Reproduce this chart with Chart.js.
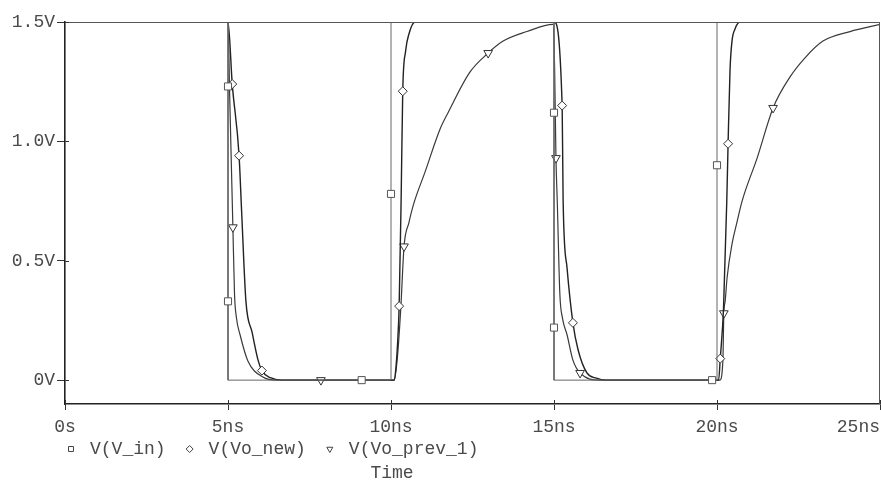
<!DOCTYPE html>
<html>
<head>
<meta charset="utf-8">
<script src="https://cdn.jsdelivr.net/npm/chart.js@4/dist/chart.umd.min.js"></script>
<style>
  html, body { margin: 0; padding: 0; background: #fff; }
  #wrap { width: 881px; height: 484px; position: relative; }
</style>
</head>
<body>
<div id="wrap"><canvas id="chart"></canvas></div>
<script>
// axis ticks
const tickTimes = [0, 5, 10, 15, 20, 25];
const tickTimeLabels = ['0s', '5ns', '10ns', '15ns', '20ns', '25ns'];
const tickVolts = [0, 0.5, 1.0, 1.5];
const tickVoltLabels = ['0V', '0.5V', '1.0V', '1.5V'];

const seriesNames = ['V(V_in)', 'V(Vo_new)', 'V(Vo_prev_1)'];

// V(V_in): time in ns, value in V
const vinT = [0, 5, 5, 5, 5, 9.1, 10, 10, 10, 15, 15, 15, 15, 19.85, 20, 20, 20, 25];
const vinV = [1.5, 1.5, 1.23, 0.33, 0, 0, 0, 0.78, 1.5, 1.5, 1.12, 0.22, 0, 0, 0, 0.9, 1.5, 1.5];
const vinMarks = [2, 3, 5, 7, 10, 11, 13, 15];

// V(Vo_new)
const voNewT = [0, 5.0, 5.13, 5.34, 5.42, 5.55, 5.74, 5.92, 6.04, 6.3, 6.65,
  10.1, 10.15, 10.2, 10.25, 10.31, 10.36, 10.45, 10.55, 10.74,
  15.0, 15.25, 15.28, 15.4, 15.58, 15.74, 16.01, 16.3, 16.6,
  20.05, 20.1, 20.2, 20.3, 20.34, 20.4, 20.46, 20.55, 20.7, 25];
const voNewV = [1.5, 1.5, 1.24, 0.94, 0.70, 0.33, 0.20, 0.085, 0.04, 0.01, 0,
  0, 0.05, 0.15, 0.31, 0.75, 1.21, 1.38, 1.45, 1.5,
  1.5, 1.15, 0.75, 0.47, 0.24, 0.126, 0.03, 0.008, 0,
  0, 0.09, 0.3, 0.75, 0.99, 1.3, 1.42, 1.47, 1.5, 1.5];
const voNewMarks = [2, 3, 8, 14, 16, 21, 24, 30, 33];

// V(Vo_prev_1)
const voPrevT = [0, 5.0, 5.05, 5.15, 5.2, 5.26, 5.37, 5.61, 6.07, 6.5, 7.85,
  10.1, 10.2, 10.3, 10.4, 10.55, 10.7, 11.04, 11.5, 11.75, 12.42, 12.98, 13.44, 14.17, 14.97,
  15.02, 15.06, 15.1, 15.18, 15.26, 15.4, 15.58, 15.8, 16.4,
  20.09, 20.18, 20.21, 20.25, 20.31, 20.46, 20.61, 20.77, 21.23, 21.72, 22.24, 22.7, 23.25, 24.08, 25];
const voPrevV = [1.5, 1.5, 1.2, 0.64, 0.36, 0.26, 0.19, 0.08, 0.013, 0, 0,
  0, 0.1, 0.3, 0.56, 0.66, 0.74, 0.87, 1.05, 1.12, 1.29, 1.37, 1.42, 1.46, 1.49,
  1.3, 0.93, 0.75, 0.36, 0.26, 0.19, 0.084, 0.03, 0,
  0, 0.08, 0.28, 0.33, 0.43, 0.57, 0.66, 0.75, 0.93, 1.14, 1.27, 1.35, 1.42, 1.46, 1.49];
const voPrevMarks = [3, 10, 14, 21, 26, 32, 36, 43];

const FONT = { family: "'Liberation Mono', 'Courier New', monospace", size: 18 };
const TEXT = '#4a4a4a';

function pts(ts, vs) { return ts.map((t, i) => ({ x: t, y: vs[i] })); }
function markRadius(marks, r) { return ctx => marks.includes(ctx.dataIndex) ? r : 0; }

// frame on top/right, tick stubs inside the plot, legend row and "Time"
const decor = {
  id: 'decor',
  afterDraw(chart) {
    const { ctx, chartArea: a, scales } = chart;
    ctx.save();
    ctx.strokeStyle = '#555';
    ctx.lineWidth = 1;
    ctx.beginPath();
    ctx.moveTo(a.left, a.top + 0.5); ctx.lineTo(a.right, a.top + 0.5);
    ctx.moveTo(a.right - 0.5, a.top); ctx.lineTo(a.right - 0.5, a.bottom);
    ctx.stroke();

    ctx.strokeStyle = '#333';
    ctx.beginPath();
    tickVolts.forEach(v => {
      const y = Math.round(scales.y.getPixelForValue(v)) + 0.5;
      ctx.moveTo(a.left, y); ctx.lineTo(a.left + 4, y);
    });
    tickTimes.forEach(t => {
      const x = Math.round(scales.x.getPixelForValue(t)) + 0.5;
      ctx.moveTo(x, a.bottom); ctx.lineTo(x, a.bottom - 4);
    });
    ctx.stroke();

    // legend
    ctx.font = `${FONT.size}px ${FONT.family}`;
    ctx.textBaseline = 'middle';
    ctx.textAlign = 'left';
    const ly = 449;
    let x = a.left + 6;
    chart.data.datasets.forEach((ds, i) => {
      ctx.fillStyle = '#fff';
      ctx.strokeStyle = '#444';
      ctx.lineWidth = 1;
      Chart.helpers.drawPoint(ctx, {
        pointStyle: ds.pointStyle, rotation: ds.pointRotation || 0,
        radius: 3.5, borderWidth: 1
      }, x, ly);
      ctx.fillStyle = TEXT;
      const tx = x + 19;
      ctx.fillText(seriesNames[i], tx, ly);
      x = tx + ctx.measureText(seriesNames[i]).width + 24;
    });

    ctx.fillStyle = TEXT;
    ctx.textAlign = 'center';
    ctx.fillText('Time', 392, 473);
    ctx.restore();
  }
};

const lineBase = {
  fill: false,
  pointBackgroundColor: '#fff',
  pointBorderWidth: 1,
  pointHoverRadius: 0
};

new Chart(document.getElementById('chart').getContext('2d'), {
  type: 'line',
  data: {
    datasets: [
      Object.assign({}, lineBase, {
        label: seriesNames[0],
        data: pts(vinT, vinV),
        borderColor: '#666', borderWidth: 1, tension: 0,
        pointStyle: 'rect', pointRadius: markRadius(vinMarks, 5),
        pointBorderColor: '#555'
      }),
      Object.assign({}, lineBase, {
        label: seriesNames[1],
        data: pts(voNewT, voNewV),
        borderColor: '#222', borderWidth: 1.4, cubicInterpolationMode: 'monotone',
        pointStyle: 'rectRot', pointRadius: markRadius(voNewMarks, 4.5),
        pointBorderColor: '#333'
      }),
      Object.assign({}, lineBase, {
        label: seriesNames[2],
        data: pts(voPrevT, voPrevV),
        borderColor: '#3a3a3a', borderWidth: 1.2, cubicInterpolationMode: 'monotone',
        pointStyle: 'triangle', pointRotation: 180, pointRadius: markRadius(voPrevMarks, 5),
        pointBorderColor: '#333'
      })
    ]
  },
  options: {
    responsive: true,
    maintainAspectRatio: false,
    animation: false,
    layout: { padding: { top: 22, right: 1, left: 0, bottom: 0 } },
    plugins: { legend: { display: false }, tooltip: { enabled: false } },
    scales: {
      x: {
        type: 'linear', min: 0, max: 25,
        afterBuildTicks: s => { s.ticks = tickTimes.map(v => ({ value: v })); },
        afterFit: s => { s.height = 80; s.paddingLeft = 0; s.paddingRight = 0; },
        ticks: {
          autoSkip: false, maxRotation: 0, padding: 6,
          font: FONT, color: TEXT,
          // last label is kept inside the canvas by trailing blanks
          callback: (v) => {
            const i = tickTimes.indexOf(v);
            return i === tickTimes.length - 1 ? tickTimeLabels[i] + '    ' : tickTimeLabels[i];
          }
        },
        grid: { drawOnChartArea: false, tickLength: 6, color: '#333', lineWidth: 1 },
        border: { color: '#222', width: 1.6 }
      },
      y: {
        type: 'linear', min: -0.1, max: 1.5,
        afterBuildTicks: s => { s.ticks = tickVolts.map(v => ({ value: v })); },
        afterFit: s => { s.width = 65; },
        ticks: {
          padding: 2, font: FONT, color: TEXT,
          callback: v => tickVoltLabels[tickVolts.indexOf(v)]
        },
        grid: { drawOnChartArea: false, tickLength: 8, color: '#333', lineWidth: 1 },
        border: { color: '#222', width: 1.6 }
      }
    }
  },
  plugins: [decor]
});
</script>
</body>
</html>
